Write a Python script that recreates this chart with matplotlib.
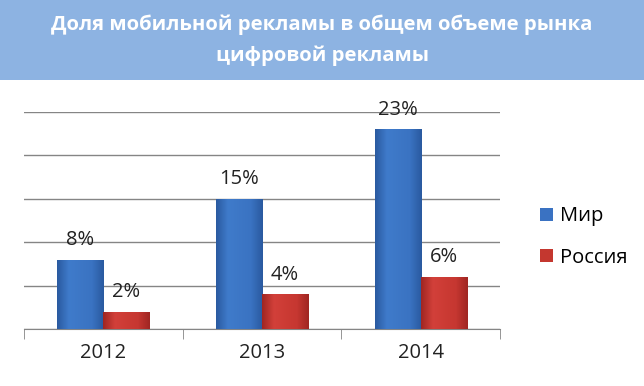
import matplotlib
matplotlib.use("Agg")
import matplotlib.pyplot as plt
import numpy as np
from matplotlib.colors import LinearSegmentedColormap
from matplotlib.patches import Rectangle

plt.rcParams["font.family"] = ["Open Sans", "DejaVu Sans"]

# Data
years = ["2012", "2013", "2014"]
world = [8, 15, 23]
russia = [2, 4, 6]
series_names = ["Мир", "Россия"]
title = "Доля мобильной рекламы в общем объеме рынка\nцифровой рекламы"

fig = plt.figure(figsize=(6.44, 3.86), dpi=100)

# Title band
fig.patches.append(Rectangle((0, 1 - 80 / 386), 1, 80 / 386, transform=fig.transFigure,
                             facecolor="#8db3e2", edgecolor="none", zorder=0))
fig.text(0.5, 1 - 40 / 386, title, ha="center", va="center", color="white",
         fontsize=14.6, fontweight="bold", linespacing=1.65)

ax = fig.add_axes([24 / 644, 57 / 386, 476 / 644, 217 / 386])

x = np.arange(len(years))
w = 0.29

blue_cmap = LinearSegmentedColormap.from_list("b", ["#2a5aa0", "#3f7bcb", "#3d77c6", "#3a73c2", "#2a5aa0"])
red_cmap = LinearSegmentedColormap.from_list("r", ["#a02622", "#d2403a", "#cc3b34", "#c63731", "#a02622"])

bars_w = ax.bar(x - w / 2, world, w, color="#3a72c2", zorder=3, label=series_names[0])
bars_r = ax.bar(x + w / 2, russia, w, color="#c4372f", zorder=3, label=series_names[1])

# gradient fill for a bit of the bevel look
grad = np.linspace(0, 1, 64).reshape(1, -1)
for bars, cmap in ((bars_w, blue_cmap), (bars_r, red_cmap)):
    for b in bars:
        x0, y0 = b.get_x(), b.get_y()
        im = ax.imshow(grad, cmap=cmap, aspect="auto", zorder=4,
                       extent=(x0, x0 + b.get_width(), y0, y0 + b.get_height()))
        im.set_clip_path(b)

for bars, vals in ((bars_w, world), (bars_r, russia)):
    for b, v in zip(bars, vals):
        ax.annotate(f"{v}%", (b.get_x() + b.get_width() / 2, v), xytext=(0, 7),
                    textcoords="offset points", ha="center", va="bottom",
                    fontsize=14.5, color="#222222", clip_on=False)

ax.set_xlim(-0.5, len(years) - 0.5)
ax.set_ylim(0, 25)
ax.set_yticks(np.arange(0, 26, 5))
ax.yaxis.grid(True, color="#858585", linewidth=1.0, zorder=0)
ax.tick_params(axis="y", left=False, labelleft=False)
ax.set_xticks(x)
ax.set_xticklabels(years, fontsize=14.5, color="#222222")
ax.tick_params(axis="x", which="major", length=0, pad=10)
ax.set_xticks(np.arange(-0.5, len(years), 1), minor=True)
ax.tick_params(axis="x", which="minor", length=7, color="#858585", direction="out")
for s in ("left", "right", "top"):
    ax.spines[s].set_visible(False)
ax.spines["bottom"].set_color("#858585")

leg = fig.legend(handles=[bars_w, bars_r], labels=series_names, loc="center left",
                 bbox_to_anchor=(522 / 644, 1 - 237 / 386), frameon=False,
                 fontsize=14.5, handlelength=0.65, handleheight=0.65,
                 handletextpad=0.35, labelspacing=1.05)
leg.legend_handles[0].set_facecolor("#3a72c2")
leg.legend_handles[1].set_facecolor("#c4372f")

fig.savefig("out.png", dpi=100)
